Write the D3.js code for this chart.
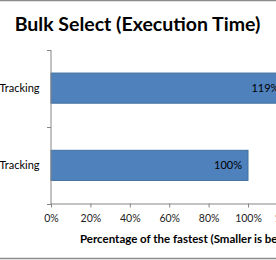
<!DOCTYPE html>
<html>
<head>
<meta charset="utf-8">
<script src="https://cdn.jsdelivr.net/npm/d3@7"></script>
<style>
  body { margin: 0; background: #fff; }
  text { font-family: Lato, "Liberation Sans", sans-serif; }
</style>
</head>
<body>
<div id="chart"></div>
<script>
// values
const categories = ["Tracking", "Tracking"]   // left part of the labels is cut off
const values = [119, 100]
const ticks = [0, 20, 40, 60, 80, 100, 120]

width = 276
height = 260
margin = ({ top: 49.5, right: -71, bottom: 56, left: 51 })

x = d3.scaleLinear()
   .domain([0, 120])
   .range([margin.left, margin.left + 236.4])

y = d3.scaleBand()
   .domain(d3.range(categories.length))
   .range([margin.top, height - margin.bottom])
   .paddingInner(0.61)
   .paddingOuter(0.305)

const svg = d3.create("svg")
   .attr("width", width)
   .attr("height", height)
   .attr("viewBox", [0, 0, width, height])

// frame lines (chart is cropped, only top and bottom edges show)
svg.append("line").attr("x1", 0).attr("x2", width).attr("y1", 0.5).attr("y2", 0.5)
   .attr("stroke", "#8c8c8c").attr("stroke-width", 1.5)
svg.append("line").attr("x1", 0).attr("x2", width).attr("y1", 258.5).attr("y2", 258.5)
   .attr("stroke", "#8c8c8c").attr("stroke-width", 1.5)

svg.append("text")
   .attr("x", 137.5)
   .attr("y", 24)
   .attr("dy", "0.35em")
   .attr("text-anchor", "middle")
   .attr("font-weight", "bold")
   .attr("font-size", 19.5)
   .attr("fill", "#000")
   .text("Bulk Select (Execution Time)")

svg.append("g")
   .selectAll("rect")
   .data(values)
   .join("rect")
   .attr("x", x(0))
   .attr("y", (d, i) => y(i))
   .attr("width", d => x(d) - x(0))
   .attr("height", y.bandwidth())
   .attr("fill", "#4f81bd")
   .attr("stroke", "#41709f")
   .attr("stroke-width", 1)

svg.append("g")
   .attr("text-anchor", "end")
   .attr("font-size", 11)
   .attr("fill", "#000")
   .selectAll("text")
   .data(values)
   .join("text")
   .attr("x", d => x(d) - 6)
   .attr("y", (d, i) => y(i) + y.bandwidth() / 2)
   .attr("dy", "0.35em")
   .text(d => d + "%")

xAxis = g => g
   .attr("transform", `translate(0,${height - margin.bottom - 0.5})`)
   .call(d3.axisBottom(x).tickValues(ticks).tickFormat(d => d + "%").tickSizeInner(4).tickSizeOuter(0).tickPadding(7))
   .call(g => g.selectAll("path, line").attr("stroke", "#868686"))
   .call(g => g.selectAll("text").attr("font-size", 10.5).attr("fill", "#222"))

yAxis = g => g
   .attr("transform", `translate(${margin.left - 0.5},0)`)
   .call(d3.axisLeft(y).tickFormat(i => categories[i]).tickSize(0).tickPadding(11))
   .call(g => g.selectAll("path").attr("stroke", "#868686"))
   .call(g => g.selectAll("text").attr("font-size", 11).attr("fill", "#000"))

svg.append("g").call(xAxis)
svg.append("g").call(yAxis)

// category separators on the y axis
const bounds = [margin.top, (y(0) + y.bandwidth() + y(1)) / 2, height - margin.bottom]
svg.append("g")
   .selectAll("line")
   .data(bounds)
   .join("line")
   .attr("x1", margin.left - 4)
   .attr("x2", margin.left)
   .attr("y1", d => Math.round(d) + 0.5)
   .attr("y2", d => Math.round(d) + 0.5)
   .attr("stroke", "#868686")

svg.append("text")
   .attr("x", 80)
   .attr("y", 239)
   .attr("dy", "0.35em")
   .attr("font-weight", "bold")
   .attr("font-size", 11.5)
   .attr("fill", "#000")
   .text("Percentage of the fastest (Smaller is better)")

d3.select("#chart").node().append(svg.node())
</script>
</body>
</html>
